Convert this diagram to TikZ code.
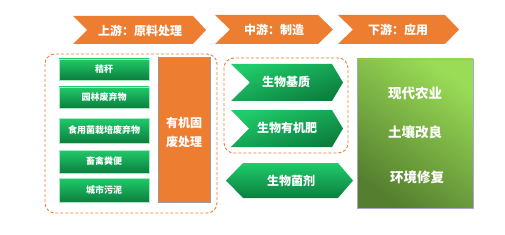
\documentclass[tikz,border=0pt]{standalone}
\usepackage{fontspec}
\newfontfamily\cjk{Noto Sans CJK SC}
\definecolor{orng}{HTML}{ED7D31}
\definecolor{gtop}{HTML}{1FCB6A}
\definecolor{gbot}{HTML}{0C7E3E}
\definecolor{rtop}{HTML}{9ADC56}
\definecolor{rbot}{HTML}{557F2F}
\begin{document}
\begin{tikzpicture}[x=1pt,y=-1pt,
  hdr/.style={fill=orng,draw=none},
  hdrtext/.style={text=white,font=\cjk\bfseries\fontsize{12}{13}\selectfont,inner sep=0},
  gbox/.style={draw=gtop!40!white,line width=0.6pt,top color=gtop,bottom color=gbot},
  gtext/.style={text=white,font=\cjk\bfseries\fontsize{9}{10}\selectfont,inner sep=0},
  mtext/.style={text=white,font=\cjk\bfseries\fontsize{12}{13}\selectfont,inner sep=0},
  rtext/.style={text=white,font=\cjk\bfseries\fontsize{13.5}{14}\selectfont,inner sep=0},
  dashbox/.style={draw=orng,line width=0.9pt,dash pattern=on 3pt off 2pt,rounded corners=10pt}]
\useasboundingbox (0,0) rectangle (505,235);
% header chevrons
\fill[hdr] (73,16) -- (193,16) -- (206,30) -- (193,44) -- (73,44) -- (87,30) -- cycle;
\node[hdrtext] (h1) at (140,31) {上游：原料处理};
\fill[hdr] (215,15) -- (318,15) -- (333,29.5) -- (318,44) -- (215,44) -- (230,29.5) -- cycle;
\node[hdrtext] (h2) at (274,29.5) {中游：制造};
\fill[hdr] (338,15) -- (445,15) -- (459,29.5) -- (445,44) -- (338,44) -- (353,29.5) -- cycle;
\node[hdrtext] (h3) at (398,30) {下游：应用};
% left dashed group
\draw[dashbox] (45,54) rectangle (217,213);
\draw[gbox] (59,59) rectangle (149,80);
\node[gtext] (l1) at (104,69.5) {秸秆};
\draw[gbox] (59,87) rectangle (149,108);
\node[gtext] (l2) at (104,97.5) {园林废弃物};
\draw[gbox] (59,118) rectangle (149,143);
\node[gtext] (l3) at (104,130.5) {食用菌栽培废弃物};
\draw[gbox] (59,150) rectangle (149,173);
\node[gtext] (l4) at (104,161.5) {畜禽粪便};
\draw[gbox] (59,178) rectangle (149,202);
\node[gtext] (l5) at (104,190) {城市污泥};
\draw[fill=orng,draw=gray!80,line width=0.7pt] (158,57) rectangle (210,202);
\node[mtext,align=center] (org) at (184,132.5) {有机固\\[6pt]废处理};
% middle
\draw[dashbox] (224,58) rectangle (348,153);
\draw[gbox,draw=none,shading angle=20] (231,64) -- (332,64) -- (343,82.5) -- (332,101) -- (231,101) -- (250,82.5) -- cycle;
\node[mtext] (m1) at (286,82) {生物基质};
\draw[gbox,draw=none,shading angle=20] (231,110) -- (332,110) -- (343,128.5) -- (332,147) -- (231,147) -- (249,128.5) -- cycle;
\node[mtext] (m2) at (287,128) {生物有机肥};
\draw[gbox,draw=none] (226,180.5) -- (243,163) -- (338,163) -- (353,180.5) -- (338,198) -- (243,198) -- cycle;
\node[mtext] (m3) at (291,181) {生物菌剂};
% right
\draw[draw=gray!60!blue!50,line width=0.7pt,top color=rtop,bottom color=rbot,shading angle=-35] (357,59) rectangle (473,208);
\node[rtext] (r1) at (415,93) {现代农业};
\node[rtext] (r2) at (415,132) {土壤改良};
\node[rtext] (r3) at (417,177) {环境修复};
\end{tikzpicture}
\end{document}
